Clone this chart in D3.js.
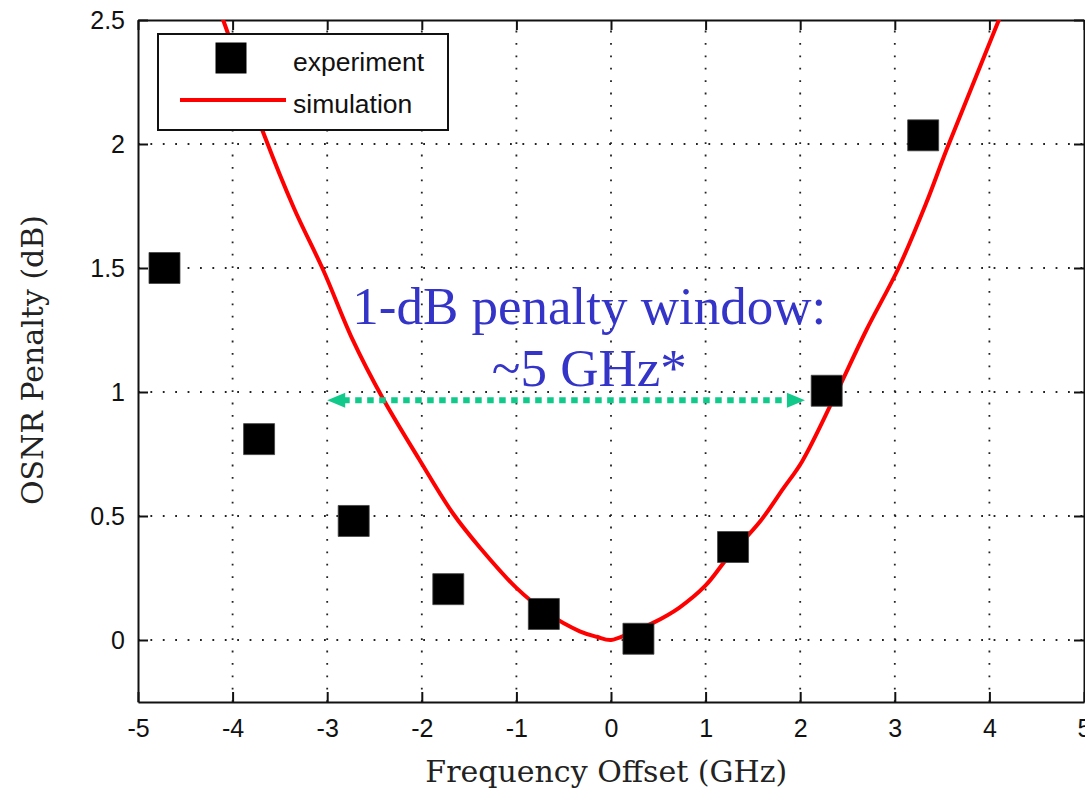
<!DOCTYPE html>
<html lang="en">
  <head>
    <meta charset="UTF-8" />
    <title>OSNR penalty vs frequency offset</title>
    <style>
      body {
        margin: 0;
        background: #fff;
      }

      .grid line {
        stroke: #222;
        stroke-width: 1.8;
        stroke-dasharray: 1.8, 10.6;
      }

      .axis path,
      .axis line {
        stroke: #111;
        stroke-width: 2;
      }

      .axis text {
        font-family: "Liberation Sans", Arial, sans-serif;
        font-size: 25px;
        fill: #111;
      }

      .axis-title {
        font-family: "DejaVu Serif", serif;
        font-size: 30px;
        fill: #222;
      }

      .legend text {
        font-family: "Liberation Sans", Arial, sans-serif;
        font-size: 26.5px;
        fill: #111;
      }

      .note {
        font-family: "Liberation Serif", "Times New Roman", serif;
        font-size: 53px;
        fill: #3434c8;
      }
    </style>
  </head>

  <body>
    <svg width="1085" height="788"></svg>

    <script src="https://d3js.org/d3.v7.min.js"></script>
    <script>
      // data
      const xTicks = [-5, -4, -3, -2, -1, 0, 1, 2, 3, 4, 5];
      const yTicks = [0, 0.5, 1, 1.5, 2, 2.5];

      // experiment (black squares)
      const expX = [-4.72, -3.72, -2.72, -1.72, -0.71, 0.29, 1.29, 2.28, 3.3];
      const expY = [1.5, 0.81, 0.48, 0.205, 0.105, 0.005, 0.375, 1.005, 2.035];

      // simulation (red line)
      const simX = [-4.2, -4.1, -3.66, -3.35, -3.04, -2.73, -2.42, -2.03, -1.67, -1.38, -1.0, -0.68, -0.33, -0.15, 0,
        0.2, 0.45, 0.72, 1.0, 1.23, 1.58, 1.82, 2.02, 2.35, 2.7, 3.04, 3.33, 3.55, 4.1, 4.2];
      const simY = [2.6, 2.5, 2.03, 1.74, 1.49, 1.21, 0.98, 0.73, 0.51, 0.37, 0.21, 0.11, 0.035, 0.013, 0,
        0.028, 0.07, 0.13, 0.22, 0.33, 0.48, 0.61, 0.72, 0.97, 1.25, 1.5, 1.76, 1.98, 2.5, 2.6];

      // 1-dB penalty window arrow
      const windowX = [-3, 2.05];
      const windowY = 0.967;
      const noteLines = ["1-dB penalty window:", "~5 GHz*"];

      const legendItems = ["experiment", "simulation"];

      // layout
      const svg = d3.select("svg");
      const margin = { top: 20, right: 1, bottom: 86, left: 138 };
      const W = 1085 - margin.left - margin.right;
      const H = 788 - margin.top - margin.bottom;

      const x = d3.scaleLinear().domain([-5, 5]).range([0, W]);
      const y = d3.scaleLinear().domain([-0.25, 2.5]).range([H, 0]);

      const g = svg.append("g").attr("transform", `translate(${margin.left},${margin.top})`);

      g.append("clipPath")
        .attr("id", "clip")
        .append("rect")
        .attr("width", W)
        .attr("height", H);

      // grid (dotted)
      const grid = g.append("g").attr("class", "grid");
      grid
        .selectAll(".vx")
        .data(xTicks.slice(1, -1))
        .join("line")
        .attr("x1", (d) => x(d))
        .attr("x2", (d) => x(d))
        .attr("y1", H)
        .attr("y2", 0);
      grid
        .selectAll(".hy")
        .data(yTicks.slice(0, -1))
        .join("line")
        .attr("class", "hy")
        .attr("x1", 0)
        .attr("x2", W)
        .attr("y1", (d) => y(d))
        .attr("y2", (d) => y(d));

      // axes, ticks inside on all four sides (matlab style)
      const fmt = (d) => String(d);
      g.append("g")
        .attr("class", "axis")
        .attr("transform", `translate(0,${H})`)
        .call(d3.axisBottom(x).tickValues(xTicks).tickFormat(fmt).tickSizeInner(-10).tickSizeOuter(0).tickPadding(17));
      g.append("g")
        .attr("class", "axis")
        .call(d3.axisLeft(y).tickValues(yTicks).tickFormat(fmt).tickSizeInner(-10).tickSizeOuter(0).tickPadding(13));
      g.append("g")
        .attr("class", "axis")
        .call(d3.axisTop(x).tickValues(xTicks).tickSizeInner(-10).tickSizeOuter(0).tickFormat(""));
      g.append("g")
        .attr("class", "axis")
        .attr("transform", `translate(${W},0)`)
        .call(d3.axisRight(y).tickValues(yTicks).tickSizeInner(-10).tickSizeOuter(0).tickFormat(""));

      // simulation curve
      const simData = simX.map((d, i) => [d, simY[i]]);
      const line = d3
        .line()
        .x((d) => x(d[0]))
        .y((d) => y(d[1]))
        .curve(d3.curveCatmullRom.alpha(0.5));
      g.append("path")
        .attr("clip-path", "url(#clip)")
        .attr("d", line(simData))
        .attr("fill", "none")
        .attr("stroke", "#ff0000")
        .attr("stroke-width", 4);

      // experiment squares
      const square = d3.symbol().type(d3.symbolSquare).size(31 * 31);
      g.append("g")
        .selectAll("path")
        .data(expX.map((d, i) => [d, expY[i]]))
        .join("path")
        .attr("d", square)
        .attr("fill", "#000")
        .attr("stroke", "#444")
        .attr("stroke-width", 0.8)
        .attr("transform", (d) => `translate(${x(d[0])},${y(d[1])})`);

      // green dotted double arrow
      const ax0 = x(windowX[0]);
      const ax1 = x(windowX[1]);
      const ay = y(windowY);
      const headL = 18;
      const headH = 7.5;
      const green = "#12c98c";
      g.append("line")
        .attr("x1", ax0 + headL - 2)
        .attr("x2", ax1 - headL + 2)
        .attr("y1", ay)
        .attr("y2", ay)
        .attr("stroke", green)
        .attr("stroke-width", 6)
        .attr("stroke-dasharray", "6.5,5.5");
      g.append("path")
        .attr("d", `M${ax0},${ay}L${ax0 + headL},${ay - headH}L${ax0 + headL},${ay + headH}Z`)
        .attr("fill", green);
      g.append("path")
        .attr("d", `M${ax1},${ay}L${ax1 - headL},${ay - headH}L${ax1 - headL},${ay + headH}Z`)
        .attr("fill", green);

      // annotation
      const note = g.append("text").attr("class", "note").attr("text-anchor", "middle");
      note
        .selectAll("tspan")
        .data(noteLines)
        .join("tspan")
        .attr("x", x(-0.23))
        .attr("y", (d, i) => y(1.275 - i * 0.25))
        .text((d) => d);

      // axis titles
      svg
        .append("text")
        .attr("class", "axis-title")
        .attr("text-anchor", "middle")
        .attr("x", margin.left + x(-0.05))
        .attr("y", 782)
        .text("Frequency Offset (GHz)");
      svg
        .append("text")
        .attr("class", "axis-title")
        .attr("text-anchor", "middle")
        .attr("transform", "translate(43,360) rotate(-90)")
        .text("OSNR Penalty (dB)");

      // legend
      const legend = svg.append("g").attr("class", "legend").attr("transform", "translate(158,34)");
      legend
        .append("rect")
        .attr("width", 290)
        .attr("height", 96)
        .attr("fill", "#fff")
        .attr("stroke", "#111")
        .attr("stroke-width", 2);
      legend
        .append("path")
        .attr("d", square)
        .attr("fill", "#000")
        .attr("transform", "translate(73,24)");
      legend
        .append("line")
        .attr("x1", 22)
        .attr("x2", 128)
        .attr("y1", 66)
        .attr("y2", 66)
        .attr("stroke", "#ff0000")
        .attr("stroke-width", 4);
      legend
        .selectAll(".lt")
        .data(legendItems)
        .join("text")
        .attr("x", 135)
        .attr("y", (d, i) => 37 + i * 42)
        .text((d) => d);
    </script>
  </body>
</html>
